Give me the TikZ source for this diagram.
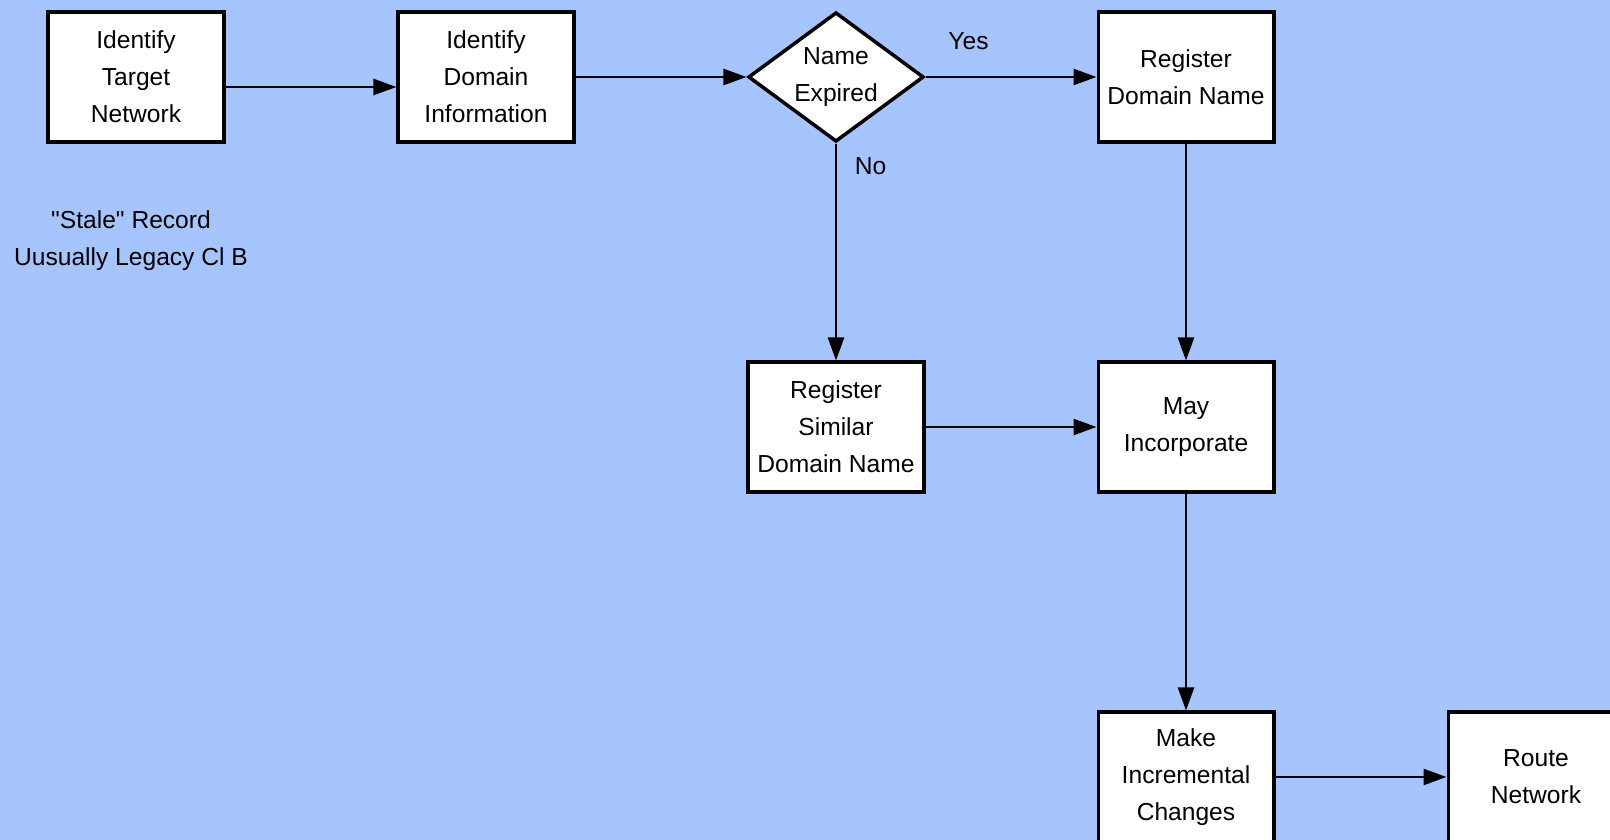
\documentclass[tikz,border=0pt]{standalone}
\usepackage{fontspec}
\setmainfont{Liberation Sans}[Ligatures=TeXOff]
\usetikzlibrary{shapes.geometric, arrows.meta}

\definecolor{sheet}{RGB}{166,197,255}

\begin{document}
\begin{tikzpicture}
        \tikzstyle{box} = [draw, line width=2pt, fill=white, minimum width=3.51cm, minimum height=2.59cm, inner sep=0pt, align=center, font=\fontsize{14}{21}\selectfont]
        \tikzstyle{choice} = [box, diamond, aspect=1.35]
        \tikzstyle{edge} = [line width=1.5pt, -{Triangle[length=4.6mm, width=3.2mm]}]
        \tikzstyle{note} = [align=center, font=\fontsize{14}{21}\selectfont]
        \useasboundingbox (0,0) rectangle (32.2,-16.8);
        \fill[sheet] (0,0) rectangle (32.2,-16.8);
        \node[box] (node1) at (2.72,-1.54) {Identify\\Target\\Network};
        \node[box] (node2) at (9.72,-1.54) {Identify\\Domain\\Information};
        \node[choice] (node3) at (16.72,-1.54) {Name\\Expired};
        \node[box] (node4) at (23.72,-1.54) {Register\\Domain Name};
        \node[box] (node5) at (16.72,-8.54) {Register\\Similar\\Domain Name};
        \node[box] (node6) at (23.72,-8.54) {May\\Incorporate};
        \node[box] (node7) at (23.72,-15.54) {Make\\Incremental\\Changes};
        \node[box] (node8) at (30.72,-15.54) {Route\\Network};
        \draw[edge] ([yshift=-0.2cm]node1.east) -- ([yshift=-0.2cm]node2.west);
        \draw[edge] (node2) -- (node3);
        \draw[edge] (node3) -- (node4);
        \draw[edge] (node3) -- (node5);
        \draw[edge] (node4) -- (node6);
        \draw[edge] (node5) -- (node6);
        \draw[edge] (node6) -- (node7);
        \draw[edge] (node7) -- (node8);
        \node[note] (yes) at (19.37,-0.82) {Yes};
        \node[note] (no) at (17.41,-3.33) {No};
        \node[note] (stale) at (2.62,-4.82) {"Stale" Record\\Uusually Legacy Cl B};
    \end{tikzpicture}
\end{document}
